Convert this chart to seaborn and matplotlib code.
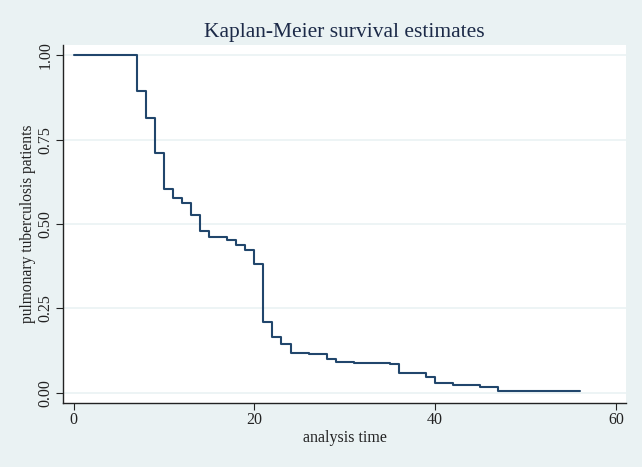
import matplotlib
matplotlib.use("Agg")
import matplotlib.pyplot as plt
import seaborn as sns

# Kaplan-Meier step estimates
time_points = [0, 7, 8, 9, 10, 11, 12, 13, 14, 15, 17, 18, 19, 20, 21, 22, 23,
               24, 26, 27, 28, 29, 31, 35, 36, 39, 40, 42, 45, 47, 56]
survival = [1.0, 0.893, 0.815, 0.710, 0.603, 0.578, 0.563, 0.528, 0.478, 0.461,
            0.452, 0.438, 0.422, 0.382, 0.211, 0.165, 0.145, 0.119, 0.116, 0.114,
            0.099, 0.092, 0.089, 0.087, 0.058, 0.046, 0.030, 0.024, 0.017, 0.005,
            0.005]
x_ticks = [0, 20, 40, 60]
y_ticks = [0.0, 0.25, 0.5, 0.75, 1.0]

bg = "#eaf2f3"
navy = "#21466c"

sns.set_style("white")
plt.rcParams["font.family"] = ["Liberation Serif", "DejaVu Serif"]

fig = plt.figure(figsize=(6.42, 4.67), dpi=100, facecolor=bg)
ax = fig.add_axes([0.0986, 0.1377, 0.8764, 0.7659])
ax.set_facecolor("white")

sns.lineplot(x=time_points, y=survival, ax=ax, color=navy, linewidth=1.5,
             drawstyle="steps-post")

ax.set_xlim(-1.13, 61.1)
ax.set_ylim(-0.029, 1.03)
ax.set_xticks(x_ticks)
ax.set_xticklabels([str(t) for t in x_ticks])
ax.set_yticks(y_ticks)
ax.set_yticklabels([f"{v:.2f}" for v in y_ticks], rotation=90, va="center")

for y in y_ticks:
    ax.axhline(y, color=bg, linewidth=1.2, zorder=0)

for side in ["top", "right"]:
    ax.spines[side].set_visible(False)
for side in ["left", "bottom"]:
    ax.spines[side].set_color("#222222")
    ax.spines[side].set_linewidth(1.0)

ax.tick_params(axis="both", direction="out", length=5, width=0.8,
               color="#222222", labelsize=11.5, labelcolor="#222222", pad=2,
               left=True, bottom=True)

ax.set_xlabel("analysis time", fontsize=11.5, color="#222222", labelpad=1)
ax.set_ylabel("pulmonary tuberculosis patients", fontsize=11.2,
              color="#222222", labelpad=1)
ax.set_title("Kaplan-Meier survival estimates", fontsize=15.5,
             color="#1c2a48", pad=6)

fig.savefig("out.png", dpi=100, facecolor=bg)
